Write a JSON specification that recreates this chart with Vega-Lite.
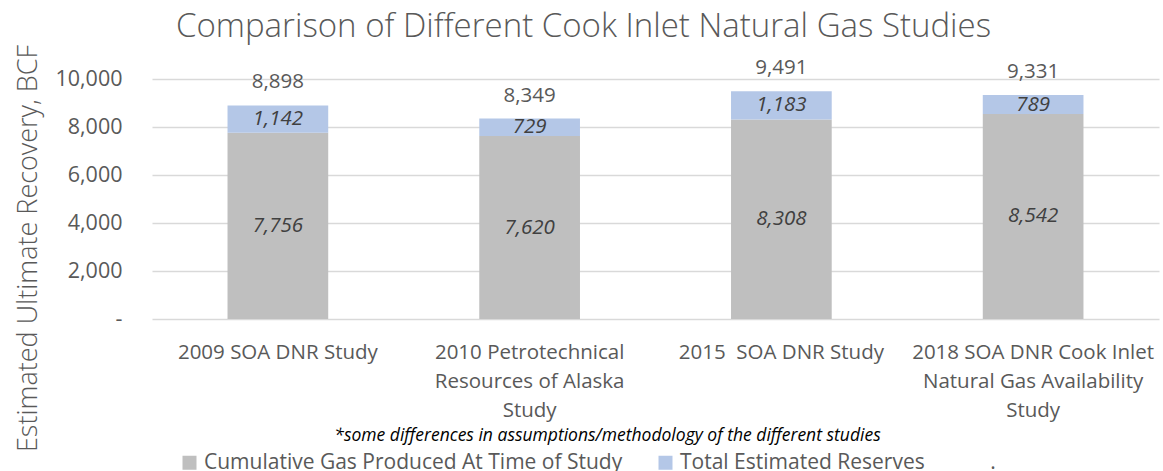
{
  "$schema": "https://vega.github.io/schema/vega-lite/v6.json",
  "width": 1007,
  "height": 240,
  "autosize": {"type": "none"},
  "padding": {"left": 152, "top": 79, "right": 4, "bottom": 152},
  "background": "white",
  "title": {
    "text": "Comparison of Different Cook Inlet Natural Gas Studies",
    "anchor": "middle",
    "dx": -72,
    "fontSize": 33,
    "font": "Open Sans",
    "fontWeight": 300,
    "color": "#595959",
    "baseline": "alphabetic",
    "offset": -26
  },
  "data": {
    "values": [
      {"study": "2009 SOA DNR Study", "series": "Cumulative Gas Produced At Time of Study", "bcf": 7756},
      {"study": "2009 SOA DNR Study", "series": "Total Estimated Reserves", "bcf": 1142},
      {"study": "2010 Petrotechnical Resources of Alaska Study", "series": "Cumulative Gas Produced At Time of Study", "bcf": 7620},
      {"study": "2010 Petrotechnical Resources of Alaska Study", "series": "Total Estimated Reserves", "bcf": 729},
      {"study": "2015 SOA DNR Study", "series": "Cumulative Gas Produced At Time of Study", "bcf": 8308},
      {"study": "2015 SOA DNR Study", "series": "Total Estimated Reserves", "bcf": 1183},
      {"study": "2018 SOA DNR Cook Inlet Natural Gas Availability Study", "series": "Cumulative Gas Produced At Time of Study", "bcf": 8542},
      {"study": "2018 SOA DNR Cook Inlet Natural Gas Availability Study", "series": "Total Estimated Reserves", "bcf": 789}
    ]
  },
  "encoding": {
    "x": {
      "field": "study",
      "type": "nominal",
      "sort": null,
      "scale": {
        "domain": ["2009 SOA DNR Study", "2010 Petrotechnical Resources of Alaska Study", "2015 SOA DNR Study", "2018 SOA DNR Cook Inlet Natural Gas Availability Study"],
        "paddingInner": 0.6,
        "paddingOuter": 0.3
      },
      "axis": {
        "labelAngle": 0,
        "labelExpr": "datum.value == '2010 Petrotechnical Resources of Alaska Study' ? ['2010 Petrotechnical', 'Resources of Alaska', 'Study'] : datum.value == '2018 SOA DNR Cook Inlet Natural Gas Availability Study' ? ['2018 SOA DNR Cook Inlet', 'Natural Gas Availability', 'Study'] : datum.value == '2015 SOA DNR Study' ? '2015\u00a0 SOA DNR Study' : datum.value",
        "labelFontSize": 20.5,
        "labelColor": "#595959",
        "labelFont": "Open Sans",
        "labelLineHeight": 29,
        "labelPadding": 23,
        "labelLimit": 400,
        "domain": false,
        "ticks": false,
        "grid": false,
        "title": "*some differences in assumptions/methodology of the different studies",
        "titleFont": "Open Sans",
        "titleFontStyle": "italic",
        "titleFontWeight": "normal",
        "titleFontSize": 17.5,
        "titleColor": "#000000",
        "titleX": 455,
        "titleY": 116,
        "titleBaseline": "middle",
        "titleAlign": "center"
      }
    }
  },
  "layer": [
    {
      "mark": {"type": "bar"},
      "encoding": {
        "y": {
          "field": "bcf",
          "type": "quantitative",
          "stack": "zero",
          "title": "Estimated Ultimate Recovery, BCF",
          "scale": {"domain": [0, 10000], "nice": false}
        },
        "color": {
          "field": "series",
          "type": "nominal",
          "scale": {
            "domain": ["Cumulative Gas Produced At Time of Study", "Total Estimated Reserves"],
            "range": ["#BFBFBF", "#B4C7E7"]
          },
          "legend": {
            "orient": "none",
            "legendX": 27,
            "legendY": 373,
            "direction": "horizontal",
            "title": null,
            "symbolType": "square",
            "symbolSize": 196,
            "symbolStrokeWidth": 0,
            "labelFontSize": 21,
            "labelFont": "Open Sans",
            "labelColor": "#595959",
            "labelOffset": 4,
            "labelLimit": 600,
            "columnPadding": 32,
            "padding": 0,
            "labelExpr": "datum.label == 'Total Estimated Reserves' ? 'Total Estimated Reserves\u00a0\u00a0\u00a0\u00a0\u00a0\u00a0\u00a0\u00a0\u00a0\u00a0\u00a0\u00a0.' : datum.label"
          }
        },
        "order": {"field": "series", "sort": "ascending"}
      }
    },
    {
      "transform": [
        {"stack": "bcf", "groupby": ["study"], "sort": [{"field": "series", "order": "ascending"}], "as": ["v0", "v1"]},
        {"fold": ["v0", "v1"], "as": ["k", "pos"]},
        {"aggregate": [{"op": "mean", "field": "pos", "as": "mid"}], "groupby": ["study", "series", "bcf"]}
      ],
      "mark": {"type": "text", "fontStyle": "italic", "fontSize": 20.5, "font": "Open Sans", "color": "#404040", "baseline": "middle"},
      "encoding": {
        "y": {"field": "mid", "type": "quantitative", "title": "Estimated Ultimate Recovery, BCF"},
        "text": {"field": "bcf", "type": "quantitative", "format": ","}
      }
    },
    {
      "transform": [
        {"aggregate": [{"op": "sum", "field": "bcf", "as": "total"}], "groupby": ["study"]}
      ],
      "mark": {"type": "text", "fontSize": 20.5, "font": "Open Sans", "color": "#595959", "baseline": "middle", "dy": -23},
      "encoding": {
        "y": {"field": "total", "type": "quantitative", "title": "Estimated Ultimate Recovery, BCF"},
        "text": {"field": "total", "type": "quantitative", "format": ","}
      }
    }
  ],
  "config": {
    "view": {"stroke": null},
    "font": "Open Sans",
    "axisY": {
      "tickCount": 5,
      "labelExpr": "datum.value == 0 ? '-' : format(datum.value, ',')",
      "labelFontSize": 21.5,
      "labelColor": "#595959",
      "labelFont": "Open Sans",
      "labelPadding": 30,
      "domain": false,
      "ticks": false,
      "grid": true,
      "gridColor": "#D9D9D9",
      "gridWidth": 1.3,
      "titleFont": "Open Sans",
      "titleFontSize": 27,
      "titleFontWeight": 300,
      "titleColor": "#595959",
      "titleAngle": 270,
      "titleX": -124,
      "titleY": 169,
      "titleBaseline": "middle",
      "titleAlign": "center"
    }
  }
}
